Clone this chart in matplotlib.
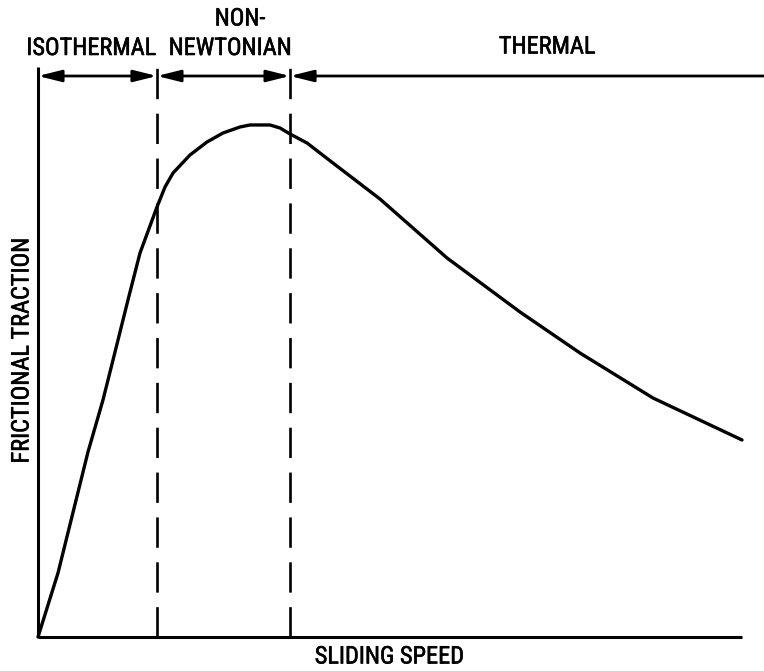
import matplotlib
matplotlib.use("Agg")
import matplotlib.pyplot as plt
from matplotlib import font_manager
import matplotlib.patheffects as pe

# ---- data (arbitrary units 0..100) ----
speed = [0, 2.84, 7.10, 9.23, 10.94, 12.78, 14.49, 16.90, 18.04, 19.18,
         21.59, 24.01, 26.28, 28.69, 30.11, 32.95, 34.38, 35.80, 38.21,
         40.06, 41.90, 48.58, 58.10, 68.47, 76.99, 87.36, 100.0]
traction = [0, 11.41, 32.98, 42.25, 50.80, 60.07, 68.45, 76.65, 80.21, 82.71,
            85.92, 88.24, 89.84, 90.91, 91.27, 91.27, 90.73, 89.66, 88.06,
            86.27, 84.49, 78.07, 67.56, 57.93, 50.62, 42.60, 35.12]
boundaries = [16.9, 35.8]
region_labels = ["ISOTHERMAL", "NON-\nNEWTONIAN", "THERMAL"]
x_label = "SLIDING SPEED"
y_label = "FRICTIONAL TRACTION"

# ---- font ----
family = "DejaVu Sans"
size = 17.5
for cand in ["Liberation Sans Narrow", "Roboto Condensed", "Open Sans Condensed"]:
    try:
        font_manager.findfont(cand, fallback_to_default=False)
        family = cand
        break
    except Exception:
        pass
if family == "DejaVu Sans":
    size = 14
plt.rcParams['font.family'] = [family, 'DejaVu Sans']
thick = [pe.withStroke(linewidth=0.4, foreground='black')]

W, H = 764, 671
fig = plt.figure(figsize=(W / 100, H / 100), dpi=100)
ax = fig.add_axes([38 / W, 1 - 637 / H, 704 / W, 561 / H])
ax.set_xlim(0, 100)
ax.set_ylim(0, 100)
ax.axis('off')

lw = 2.2
top_ext = 101.6
right_ext = 103.1

# axes lines
ax.plot([0, 0], [0, top_ext], color='black', lw=lw, clip_on=False, solid_capstyle='butt')
ax.plot([0, 100], [0, 0], color='black', lw=lw, clip_on=False, solid_capstyle='butt')

# dashed boundaries
for b in boundaries:
    ax.plot([b, b], [0, top_ext], color='black', lw=1.9, clip_on=False,
            dashes=(11.5, 5.5), solid_capstyle='butt')

# top arrow line
edges = [0] + boundaries
ap = dict(arrowstyle='<|-|>,head_length=14,head_width=3.5', color='black',
          lw=2.0, shrinkA=0, shrinkB=0, mutation_scale=1)
for a, b in zip(edges[:-1], edges[1:]):
    ax.annotate('', xy=(b, 100), xytext=(a, 100), arrowprops=ap,
                annotation_clip=False)
ap3 = dict(arrowstyle='<|-,head_length=14,head_width=3.5', color='black',
           lw=2.0, shrinkA=0, shrinkB=0, mutation_scale=1)
ax.annotate('', xy=(right_ext, 100), xytext=(boundaries[1], 100), arrowprops=ap3,
            annotation_clip=False)

# curve
ax.plot(speed, traction, color='black', lw=2.4, clip_on=False,
        solid_joinstyle='round', solid_capstyle='round')

# labels
kw = dict(ha='center', va='center', fontsize=size, path_effects=thick)
non, newt = region_labels[1].split("\n")
fig.text(91 / W, 1 - 48.5 / H, region_labels[0], **kw)
fig.text(240 / W, 1 - 19 / H, non, **kw)
fig.text(230 / W, 1 - 48.5 / H, newt, **kw)
fig.text(547 / W, 1 - 47 / H, region_labels[2], **kw)
fig.text(389 / W, 1 - 657 / H, x_label, **kw)
fig.text(22 / W, 1 - 351 / H, y_label, rotation=90, **kw)

fig.savefig("out.png", dpi=100, facecolor='white')
